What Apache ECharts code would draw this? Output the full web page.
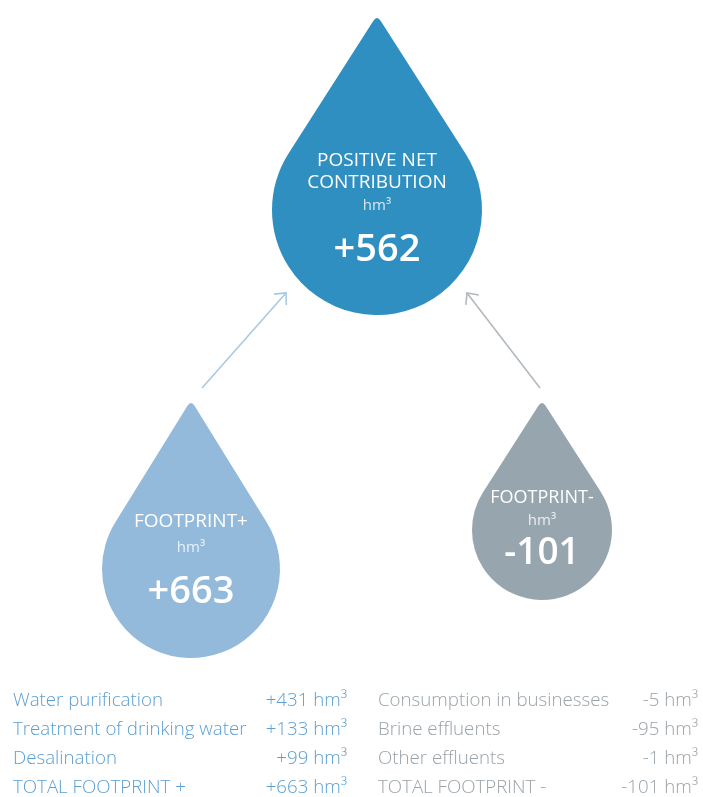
<!DOCTYPE html>
<html>
<head>
<meta charset="utf-8">
<script src="https://cdn.jsdelivr.net/npm/echarts@6/dist/echarts.min.js"></script>
<style>
  html, body { margin: 0; padding: 0; background: #fff; }
  #chart { width: 703px; height: 797px; }
</style>
</head>
<body>
<div id="chart"></div>
<script>
// data
const dropTitles = [['POSITIVE NET', 'CONTRIBUTION'], ['FOOTPRINT+'], ['FOOTPRINT-']];
const dropValues = [562, 663, -101];
const unit = 'hm³';

const positiveItems = ['Water purification', 'Treatment of drinking water', 'Desalination', 'TOTAL FOOTPRINT +'];
const positiveValues = [431, 133, 99, 663];
const negativeItems = ['Consumption in businesses', 'Brine effluents', 'Other effluents', 'TOTAL FOOTPRINT -'];
const negativeValues = [-5, -95, -1, -101];

// layout (pixel-like coords on hidden axes)
const dropLayout = [
  { cx: 377, cy: 210, r: 105, h: 195, color: '#2e8fc0', titleY: [-49, -27], unitY: -4, valueY: 40, titleSize: 19, valueSize: 38 },
  { cx: 191, cy: 569, r: 89, h: 169, color: '#93bada', titleY: [-47], unitY: -21, valueY: 23, titleSize: 19, valueSize: 38 },
  { cx: 542, cy: 530, r: 70, h: 130, color: '#97a6ae', titleY: [-32], unitY: -9, valueY: 23, titleSize: 18, valueSize: 37 }
];
const arrowLayout = [
  { from: [202, 388], to: [286, 293], color: '#a9c8e4' },
  { from: [540, 388], to: [467, 293], color: '#b1b9be' }
];
const rowY = [701, 730, 759, 788];
const tableCols = [
  { items: positiveItems, values: positiveValues, labelX: 13, valueX: 347, color: '#5b9fd2' },
  { items: negativeItems, values: negativeValues, labelX: 378, valueX: 698, color: '#9aa3a9' }
];

const fmt = v => (v > 0 ? '+' : '') + v;
const FONT = '"Open Sans", "Noto Sans", sans-serif';

function dropPath(cx, cy, r, h) {
  const a = Math.acos(r / h);
  const tx = r * Math.sin(a), ty = r * Math.cos(a);
  const lx = cx - tx, ly = cy - ty, rx = cx + tx;
  const tipY = cy - h;
  const len = Math.hypot(lx - cx, ly - tipY);
  const k = 7;
  const p1x = cx + (lx - cx) * k / len, p1y = tipY + (ly - tipY) * k / len;
  return 'M' + p1x + ' ' + p1y +
    ' Q' + cx + ' ' + tipY + ' ' + (2 * cx - p1x) + ' ' + p1y +
    ' L' + rx + ' ' + ly +
    ' A' + r + ' ' + r + ' 0 1 1 ' + lx + ' ' + ly + ' Z';
}

function txt(text, x, y, color, size, weight, align) {
  return {
    type: 'text',
    style: {
      text: text, x: x, y: y, fill: color,
      font: (weight || 'normal') + ' ' + size + 'px ' + FONT,
      textAlign: align || 'center', textVerticalAlign: 'middle',
      align: align || 'center', verticalAlign: 'middle'
    }
  };
}

const chart = echarts.init(document.getElementById('chart'));

const option = {
  animation: false,
  grid: { left: 0, right: 0, top: 0, bottom: 0 },
  xAxis: { type: 'value', min: 0, max: 703, show: false },
  yAxis: { type: 'value', min: 0, max: 797, inverse: true, show: false },
  series: [
    {
      type: 'custom',
      name: 'arrows',
      data: arrowLayout.map((a, i) => i),
      renderItem: function (params, api) {
        const a = arrowLayout[params.dataIndex];
        const p0 = api.coord(a.from), p1 = api.coord(a.to);
        const ang = Math.atan2(p0[1] - p1[1], p0[0] - p1[0]);
        const arm = 12, spread = 0.75;
        const w1 = [p1[0] + arm * Math.cos(ang + spread), p1[1] + arm * Math.sin(ang + spread)];
        const w2 = [p1[0] + arm * Math.cos(ang - spread), p1[1] + arm * Math.sin(ang - spread)];
        const st = { stroke: a.color, lineWidth: 1.6, fill: null };
        return {
          type: 'group',
          children: [
            { type: 'line', shape: { x1: p0[0], y1: p0[1], x2: p1[0], y2: p1[1] }, style: st },
            { type: 'polyline', shape: { points: [w1, p1, w2] }, style: st }
          ]
        };
      }
    },
    {
      type: 'custom',
      name: 'drops',
      data: dropValues,
      renderItem: function (params, api) {
        const i = params.dataIndex;
        const d = dropLayout[i];
        const c = api.coord([d.cx, d.cy]);
        const children = [{
          type: 'path',
          shape: { pathData: dropPath(c[0], c[1], d.r, d.h) },
          style: { fill: d.color }
        }];
        dropTitles[i].forEach((t, k) => {
          children.push(txt(t, c[0], c[1] + d.titleY[k], '#ffffff', d.titleSize, 'normal'));
        });
        children.push(txt(unit, c[0], c[1] + d.unitY, 'rgba(255,255,255,0.8)', 15, 'normal'));
        children.push(txt(fmt(api.value(0)), c[0], c[1] + d.valueY, '#ffffff', d.valueSize, '600'));
        return { type: 'group', children: children };
      }
    },
    {
      type: 'custom',
      name: 'table',
      data: tableCols.map((c, i) => i),
      renderItem: function (params, api) {
        const col = tableCols[params.dataIndex];
        const children = [];
        col.items.forEach((name, k) => {
          const pl = api.coord([col.labelX, rowY[k]]);
          const pv = api.coord([col.valueX, rowY[k]]);
          children.push(txt(name, pl[0], pl[1], col.color, 18.7, '300', 'left'));
          children.push(txt(fmt(col.values[k]) + ' ' + unit, pv[0], pv[1], col.color, 18.7, '300', 'right'));
        });
        return { type: 'group', children: children };
      }
    }
  ]
};

chart.setOption(option);
</script>
</body>
</html>
